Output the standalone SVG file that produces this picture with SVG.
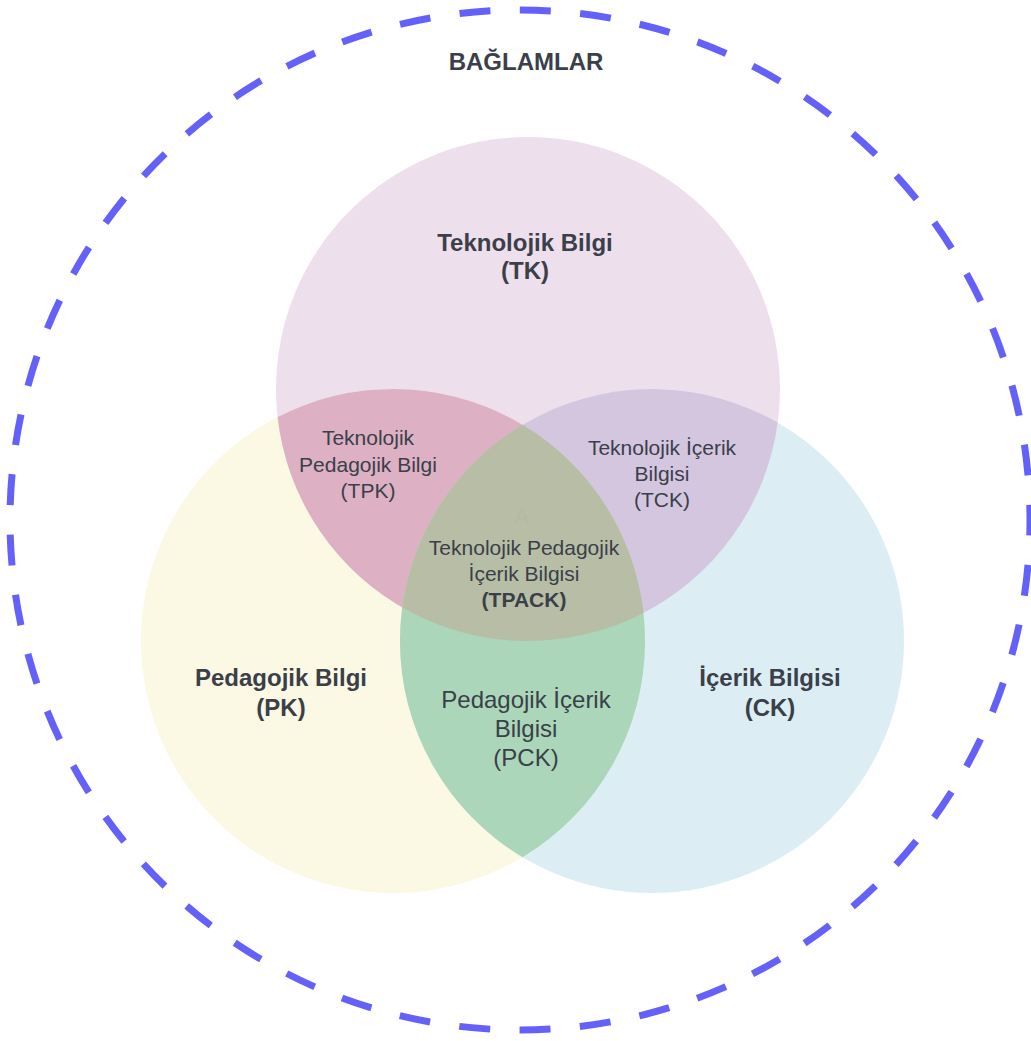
<svg xmlns="http://www.w3.org/2000/svg" width="1031" height="1041" viewBox="0 0 1031 1041">
  <style>
    .lbl { font-family: "Liberation Sans", Arial, sans-serif; fill: #3a3f4a; text-anchor: middle; }
    .main { font-size: 24px; font-weight: bold; }
    .sub { font-size: 21px; }
    .subb { font-size: 21px; font-weight: bold; }
    .pck { font-size: 24px; }
  </style>
  <rect width="1031" height="1041" fill="#ffffff"/>

  <!-- context boundary -->
  <g id="contexts">
    <circle cx="520" cy="520" r="510" fill="none" stroke="#6461f9" stroke-width="7" stroke-dasharray="31 29.46" stroke-dashoffset="15.5"/>
    <text class="lbl main" x="526" y="70">BAĞLAMLAR</text>
  </g>

  <!-- base knowledge circles -->
  <g id="tk">
    <circle cx="528" cy="389" r="252" fill="#eedfec"/>
  </g>
  <g id="pk">
    <circle cx="393" cy="641" r="252" fill="#fbf9e3"/>
  </g>
  <g id="ck">
    <circle cx="652" cy="641" r="252" fill="#dceef4"/>
  </g>

  <!-- pairwise overlaps -->
  <g id="tpk">
    <path d="M277.55,417 A252,252 0 0 1 643.45,613 A252,252 0 0 1 277.55,417 Z" fill="#ddb1c3"/>
  </g>
  <g id="tck">
    <path d="M777.7,422.6 A252,252 0 0 1 402.3,607.4 A252,252 0 0 1 777.7,422.6 Z" fill="#d5c6e0"/>
  </g>
  <g id="pck">
    <path d="M522.5,424.8 A252,252 0 0 0 522.5,857.2 A252,252 0 0 0 522.5,424.8 Z" fill="#abd6b9"/>
  </g>

  <!-- triple overlap -->
  <g id="tpack">
    <path d="M522.5,424.8 A252,252 0 0 0 402.3,607.4 A252,252 0 0 0 643.45,613 A252,252 0 0 0 522.5,424.8 Z" fill="#b7bea5"/>
  </g>

  <!-- labels -->
  <g id="labels">
    <text class="lbl main" x="525" y="251">Teknolojik Bilgi</text>
    <text class="lbl main" x="525" y="279">(TK)</text>

    <text class="lbl main" x="281" y="686">Pedagojik Bilgi</text>
    <text class="lbl main" x="281" y="716">(PK)</text>

    <text class="lbl main" x="770" y="686">İçerik Bilgisi</text>
    <text class="lbl main" x="770" y="716">(CK)</text>

    <text class="lbl sub" x="368" y="445">Teknolojik</text>
    <text class="lbl sub" x="368" y="472">Pedagojik Bilgi</text>
    <text class="lbl sub" x="368" y="498">(TPK)</text>

    <text class="lbl sub" x="662" y="455">Teknolojik İçerik</text>
    <text class="lbl sub" x="662" y="481">Bilgisi</text>
    <text class="lbl sub" x="662" y="507">(TCK)</text>

    <text class="lbl sub" x="522" y="523" fill-opacity="0.12" style="fill:#9aa08a">A</text>
    <text class="lbl sub" x="524" y="555">Teknolojik Pedagojik</text>
    <text class="lbl sub" x="524" y="581">İçerik Bilgisi</text>
    <text class="lbl subb" x="524" y="607">(TPACK)</text>

    <text class="lbl pck" x="526" y="708">Pedagojik İçerik</text>
    <text class="lbl pck" x="526" y="737">Bilgisi</text>
    <text class="lbl pck" x="526" y="766">(PCK)</text>
  </g>
</svg>
